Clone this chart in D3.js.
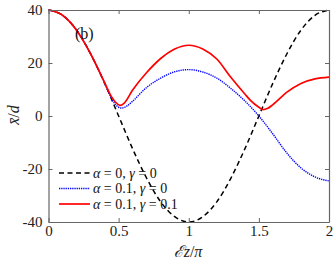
<!DOCTYPE html>
<html>
<head>
<meta charset="utf-8">
<script src="https://cdn.jsdelivr.net/npm/d3@7"></script>
<style>
  body { margin: 0; background: #fff; }
</style>
</head>
<body>
<svg width="336" height="266"></svg>
<script>
// values
var tBlack = [0, 0.1, 0.2, 0.3, 0.4, 0.5, 0.6, 0.7, 0.8, 0.9, 1.0, 1.1, 1.2, 1.3, 1.4, 1.5, 1.6, 1.7, 1.8, 1.9, 2.0];
var xBlack = [40, 38, 32.4, 23.5, 12.4, 0, -12.4, -23.5, -32.4, -38, -40, -38, -32.4, -23.5, -12.4, 0, 12.4, 23.5, 32.4, 38, 40];

var tBlue = [0, 0.1, 0.2, 0.3, 0.4, 0.45, 0.48, 0.52, 0.56, 0.6, 0.7, 0.8, 0.9, 1.0, 1.1, 1.2, 1.3, 1.4, 1.5, 1.6, 1.7, 1.8, 1.9, 2.0];
var xBlue = [40, 38, 32.4, 23.5, 12.4, 6.5, 4.2, 3.0, 3.8, 5.6, 10.8, 14.3, 16.7, 17.5, 16.6, 14.3, 10.4, 5.7, 0, -6.8, -14, -19.6, -23, -24.5];

var tRed = [0, 0.1, 0.2, 0.3, 0.4, 0.45, 0.48, 0.51, 0.54, 0.6, 0.7, 0.8, 0.9, 1.0, 1.1, 1.2, 1.3, 1.4, 1.44, 1.5, 1.53, 1.56, 1.6, 1.7, 1.8, 1.9, 2.0];
var xRed = [40, 38, 32.4, 23.5, 12.6, 7.2, 5.1, 4.0, 4.9, 9.8, 16.4, 21.7, 25.3, 26.7, 25.3, 21.5, 14.6, 8.3, 5.9, 3.3, 2.4, 2.8, 4.3, 9, 12.3, 14, 14.7];

var xTicks = [0, 0.5, 1, 1.5, 2];
var yTicks = [-40, -20, 0, 20, 40];
var legendLabels = ["α = 0, γ = 0", "α = 0.1, γ = 0", "α = 0.1, γ = 0.1"];

var serif = "'Liberation Serif', 'Times New Roman', serif";
var svg = d3.select("svg").attr("font-family", serif);
var x = d3.scaleLinear().domain([0, 2]).range([48.5, 329]);
var y = d3.scaleLinear().domain([-40, 40]).range([222, 10]);

function zip(ts, vs) { return ts.map(function(t, i) { return [t, vs[i]]; }); }

var line = d3.line()
    .x(function(d) { return x(d[0]); })
    .y(function(d) { return y(d[1]); })
    .curve(d3.curveMonotoneX);

var series = [
  { data: zip(tBlack, xBlack), color: "#000", dash: "5,3.5", width: 1.5 },
  { data: zip(tBlue, xBlue), color: "#0000ff", dash: "1.3,0.9", width: 1.4 },
  { data: zip(tRed, xRed), color: "#ff0000", dash: null, width: 1.7 }
];

var axisColor = "#666";

// legend lines and texts (drawn under curves)
var lg = svg.append("g");
series.forEach(function(s, i) {
  var yy = 173 + i * 15.5;
  lg.append("line")
      .attr("x1", 59).attr("x2", 90)
      .attr("y1", yy).attr("y2", yy)
      .attr("stroke", s.color)
      .attr("stroke-width", s.width)
      .attr("stroke-dasharray", s.dash);
  var txt = lg.append("text")
      .attr("x", 93).attr("y", yy + 4.5)
      .attr("font-family", serif)
      .attr("font-size", 14)
      .attr("fill", "#111");
  var parts = legendLabels[i].split(/(α|γ)/);
  parts.forEach(function(p) {
    if (p === "") return;
    txt.append("tspan")
        .attr("font-style", (p === "α" || p === "γ") ? "italic" : null)
        .text(p);
  });
});

// curves
svg.append("g").selectAll("path")
  .data(series)
  .enter().append("path")
    .attr("d", function(d) { return line(d.data); })
    .attr("fill", "none")
    .attr("stroke", function(d) { return d.color; })
    .attr("stroke-width", function(d) { return d.width; })
    .attr("stroke-dasharray", function(d) { return d.dash; });

// axes (box with inward ticks)
function styleAxis(g) {
  g.attr("font-family", serif).attr("font-size", 15);
  g.select(".domain").attr("stroke", axisColor).attr("stroke-width", 1.2);
  g.selectAll(".tick line").attr("stroke", axisColor);
  g.selectAll(".tick text").attr("fill", "#222");
}

svg.append("g")
    .attr("transform", "translate(0," + y(-40) + ")")
    .call(d3.axisBottom(x).tickValues(xTicks).tickFormat(d3.format("")).tickSizeInner(-4).tickSizeOuter(0).tickPadding(3))
    .call(styleAxis);

svg.append("g")
    .attr("transform", "translate(0," + y(40) + ")")
    .call(d3.axisTop(x).tickValues(xTicks).tickFormat("").tickSizeInner(-4).tickSizeOuter(0))
    .call(styleAxis);

svg.append("g")
    .attr("transform", "translate(" + x(0) + ",0)")
    .call(d3.axisLeft(y).tickValues(yTicks).tickFormat(d3.format("")).tickSizeInner(-4).tickSizeOuter(0).tickPadding(6))
    .call(styleAxis);

svg.append("g")
    .attr("transform", "translate(" + x(2) + ",0)")
    .call(d3.axisRight(y).tickValues(yTicks).tickFormat("").tickSizeInner(-4).tickSizeOuter(0))
    .call(styleAxis);

svg.selectAll(".tick text").each(function() {
  var t = d3.select(this);
  t.text(t.text().replace("−", "-"));
});

// panel tag
svg.append("text")
    .attr("x", 75).attr("y", 39)
    .attr("font-family", serif)
    .attr("font-size", 16)
    .attr("fill", "#111")
    .text("(b)");

// x label
var xl = svg.append("text")
    .attr("x", 188).attr("y", 257)
    .attr("text-anchor", "middle")
    .attr("font-family", serif)
    .attr("font-size", 16)
    .attr("fill", "#222");
xl.append("tspan").attr("font-style", "italic").text("ℰz");
xl.append("tspan").text("/");
xl.append("tspan").attr("font-style", "italic").text("π");

// y label
var yl = svg.append("text")
    .attr("transform", "translate(19,115) rotate(-90)")
    .attr("text-anchor", "middle")
    .attr("font-family", serif)
    .attr("font-size", 16)
    .attr("fill", "#222");
yl.append("tspan").attr("font-style", "italic").text("x\u0304");
yl.append("tspan").text("/");
yl.append("tspan").attr("font-style", "italic").text("d");
</script>
</body>
</html>
